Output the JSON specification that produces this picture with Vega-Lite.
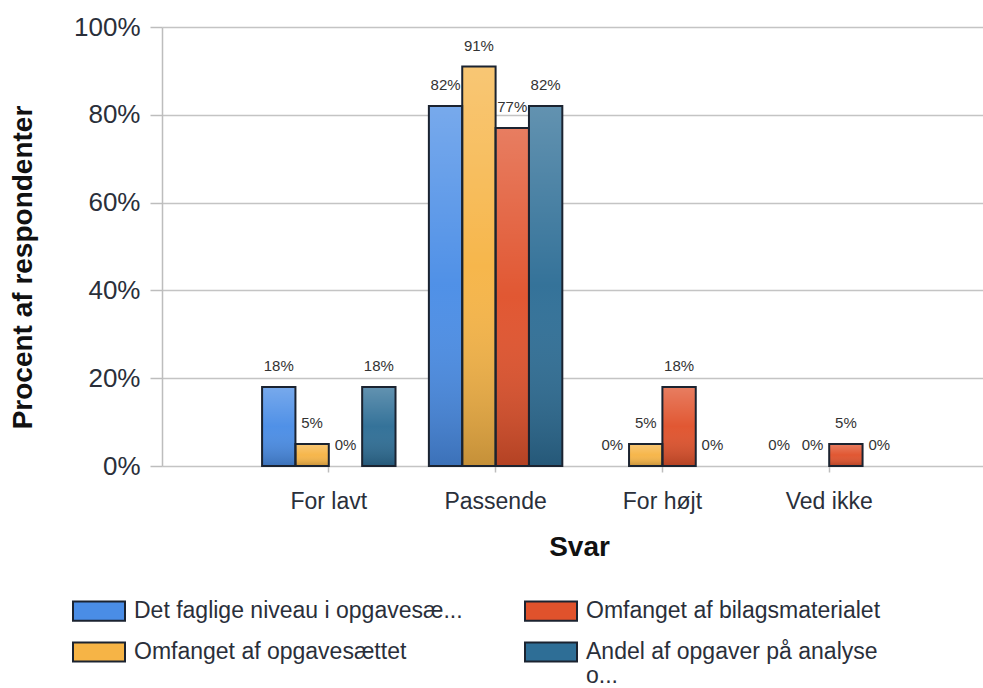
{
  "$schema": "https://vega.github.io/schema/vega-lite/v6.json",
  "width": 821,
  "height": 439,
  "autosize": {"type": "none"},
  "padding": {"left": 162, "top": 27, "right": 0, "bottom": 222},
  "background": "white",
  "config": {"font": "Liberation Sans", "view": {"stroke": null}},
  "data": {
    "values": [
      {"svar": "For lavt", "serie": "Det faglige niveau i opgavesæ...", "pct": 0.18},
      {"svar": "For lavt", "serie": "Omfanget af opgavesættet", "pct": 0.05},
      {"svar": "For lavt", "serie": "Omfanget af bilagsmaterialet", "pct": 0},
      {"svar": "For lavt", "serie": "Andel af opgaver på analyse o...", "pct": 0.18},
      {"svar": "Passende", "serie": "Det faglige niveau i opgavesæ...", "pct": 0.82},
      {"svar": "Passende", "serie": "Omfanget af opgavesættet", "pct": 0.91},
      {"svar": "Passende", "serie": "Omfanget af bilagsmaterialet", "pct": 0.77},
      {"svar": "Passende", "serie": "Andel af opgaver på analyse o...", "pct": 0.82},
      {"svar": "For højt", "serie": "Det faglige niveau i opgavesæ...", "pct": 0},
      {"svar": "For højt", "serie": "Omfanget af opgavesættet", "pct": 0.05},
      {"svar": "For højt", "serie": "Omfanget af bilagsmaterialet", "pct": 0.18},
      {"svar": "For højt", "serie": "Andel af opgaver på analyse o...", "pct": 0},
      {"svar": "Ved ikke", "serie": "Det faglige niveau i opgavesæ...", "pct": 0},
      {"svar": "Ved ikke", "serie": "Omfanget af opgavesættet", "pct": 0},
      {"svar": "Ved ikke", "serie": "Omfanget af bilagsmaterialet", "pct": 0.05},
      {"svar": "Ved ikke", "serie": "Andel af opgaver på analyse o...", "pct": 0}
    ]
  },
  "encoding": {
    "x": {
      "field": "svar",
      "type": "nominal",
      "sort": ["For lavt", "Passende", "For højt", "Ved ikke"],
      "scale": {"range": [0, 834], "paddingInner": 0.2, "paddingOuter": 0.6},
      "axis": {
        "domain": false,
        "ticks": true,
        "tickSize": 6,
        "tickColor": "#bdbdbd",
        "tickWidth": 1.5,
        "labelAngle": 0,
        "labelFontSize": 23,
        "labelColor": "#2a2f3a",
        "labelPadding": 18,
        "title": "Svar",
        "titleFontSize": 28,
        "titleFontWeight": "bold",
        "titleColor": "#111111",
        "titlePadding": 20
      }
    },
    "xOffset": {
      "field": "serie",
      "sort": ["Det faglige niveau i opgavesæ...", "Omfanget af opgavesættet", "Omfanget af bilagsmaterialet", "Andel af opgaver på analyse o..."],
      "scale": {"paddingInner": 0, "paddingOuter": 0}
    },
    "y": {
      "field": "pct",
      "type": "quantitative",
      "scale": {"domain": [0, 1], "nice": false},
      "axis": {
        "values": [0, 0.2, 0.4, 0.6, 0.8, 1],
        "format": ".0%",
        "labelFontSize": 26,
        "labelColor": "#2a2f3a",
        "labelPadding": 10,
        "tickSize": 12,
        "tickColor": "#bdbdbd",
        "tickWidth": 1.5,
        "domainColor": "#bdbdbd",
        "domainWidth": 1.5,
        "grid": true,
        "gridColor": "#c4c4c4",
        "gridWidth": 1.5,
        "title": "Procent af respondenter",
        "titleFontSize": 28,
        "titleFontWeight": "bold",
        "titleColor": "#111111",
        "titleAngle": -90,
        "titleAlign": "center",
        "titleBaseline": "bottom",
        "titleX": -125,
        "titleY": 240
      }
    }
  },
  "layer": [
    {
      "mark": {"type": "bar"},
      "encoding": {
        "color": {
          "field": "serie",
          "type": "nominal",
          "scale": {
            "domain": ["Det faglige niveau i opgavesæ...", "Omfanget af opgavesættet", "Omfanget af bilagsmaterialet", "Andel af opgaver på analyse o..."],
            "range": ["#4a8de6", "#f6b446", "#e0522c", "#2e6e96"]
          },
          "legend": {
            "orient": "none",
            "legendX": -90,
            "legendY": 557,
            "title": null,
            "columns": 2,
            "direction": "vertical",
            "values": ["Det faglige niveau i opgavesæ...", "Omfanget af opgavesættet", "Omfanget af bilagsmaterialet", "Andel af opgaver på analyse o..."],
            "labelExpr": "datum.label == 'Andel af opgaver på analyse o...' ? ['Andel af opgaver på analyse', 'o...'] : datum.label",
            "symbolType": "M-1,-0.37H1V0.37H-1Z",
            "symbolSize": 2704,
            "symbolStrokeColor": "#1b2330",
            "symbolStrokeWidth": 2,
            "symbolOpacity": 1,
            "labelFontSize": 23,
            "labelColor": "#2a2f3a",
            "labelLimit": 600,
            "labelOffset": 8,
            "columnPadding": 58,
            "rowPadding": 0,
            "padding": 0,
            "encode": {"labels": {"update": {"lineHeight": {"value": 24}}}}
          }
        }
      }
    },
    {
      "mark": {
        "type": "bar",
        "fill": {
          "gradient": "linear",
          "x1": 0, "y1": 0, "x2": 0, "y2": 1,
          "stops": [
            {"offset": 0, "color": "rgba(255,255,255,0.25)"},
            {"offset": 0.5, "color": "rgba(255,255,255,0.03)"},
            {"offset": 1, "color": "rgba(0,0,0,0.2)"}
          ]
        },
        "stroke": "#1b2330",
        "strokeWidth": 2
      },
      "encoding": {
        "strokeOpacity": {"condition": {"test": "datum.pct == 0", "value": 0}, "value": 1}
      }
    },
    {
      "mark": {"type": "text", "baseline": "middle", "dy": -21, "fontSize": 15, "color": "#333333"},
      "encoding": {"text": {"field": "pct", "type": "quantitative", "format": ".0%"}}
    }
  ]
}
